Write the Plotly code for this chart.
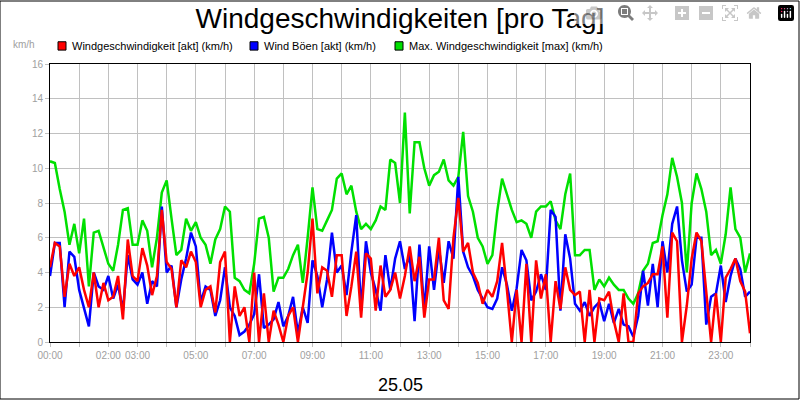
import plotly.graph_objects as go

# 10-minute samples, 00:00 .. 24:00 (km/h)
wind = [4.3, 5.7, 5.5, 2.6, 4.5, 3.8, 4.3, 3.0, 2.0, 4.0, 2.0, 3.4, 2.4, 2.6, 3.8, 1.3, 5.9, 3.8, 3.5, 5.4,
        4.4, 2.7, 3.8, 7.6, 4.6, 4.2, 2.0, 4.7, 4.3, 5.2, 4.6, 2.0, 3.0, 3.2, 1.7, 4.6, 5.2, 0, 3.2, 1.5,
        2.0, 0, 4.0, 0, 2.8, 0, 1.8, 1.0, 0, 1.5, 2.0, 0, 2.0, 4.0, 7.1, 2.8, 4.3, 4.1, 2.6, 5.0,
        5.0, 1.5, 3.2, 5.2, 1.4, 5.1, 4.8, 1.8, 4.4, 2.6, 3.0, 4.0, 2.5, 3.8, 5.5, 3.5, 4.9, 1.4, 3.6, 3.6,
        6.0, 2.4, 1.9, 6.0, 8.3, 5.2, 5.7, 4.0, 3.4, 2.2, 3.0, 2.6, 3.5, 5.7, 3.0, 0, 3.0, 0, 4.5, 0,
        4.7, 2.5, 3.9, 0, 3.5, 1.9, 4.3, 3.0, 2.7, 2.9, 0, 3.0, 0, 2.5, 2.4, 2.9, 1.2, 0, 2.8, 0,
        0, 2.8, 3.2, 3.4, 3.9, 3.9, 5.5, 1.4, 6.3, 5.8, 0, 2.1, 4.8, 6.3, 5.8, 3.0, 0, 2.8, 0, 3.7,
        4.2, 4.8, 3.5, 2.9, 0.5]
gust = [3.8, 5.7, 5.7, 2.0, 5.2, 4.9, 3.0, 2.0, 0.9, 4.0, 3.2, 3.0, 3.8, 2.5, 3.3, 1.8, 5.0, 3.6, 3.3, 4.0,
        2.2, 3.5, 3.2, 7.8, 4.0, 4.4, 2.0, 3.6, 4.8, 6.3, 5.5, 2.3, 3.2, 3.0, 1.5, 2.4, 4.3, 2.0, 1.5, 0.4,
        0.6, 1.0, 1.6, 3.9, 0.8, 1.0, 1.3, 2.3, 0.9, 1.5, 2.6, 0.5, 2.0, 1.1, 4.7, 3.8, 2.0, 3.6, 6.3, 4.0,
        4.4, 2.7, 5.2, 7.3, 1.8, 5.8, 4.0, 3.0, 1.8, 5.0, 3.0, 4.8, 5.8, 4.2, 5.0, 1.2, 5.6, 1.8, 5.5, 3.0,
        5.4, 3.4, 5.8, 4.8, 9.5, 5.2, 4.3, 3.8, 3.0, 2.5, 2.0, 1.9, 2.5, 4.3, 3.3, 1.8, 3.1, 5.3, 4.7, 2.4,
        2.9, 3.9, 3.0, 7.6, 7.2, 1.8, 6.2, 4.8, 2.2, 1.8, 2.3, 1.5, 2.0, 2.3, 1.2, 2.2, 1.1, 1.9, 1.0, 0.9,
        0.3, 1.5, 4.1, 2.1, 4.5, 2.0, 5.8, 4.0, 6.8, 7.8, 4.7, 2.9, 3.3, 6.0, 6.0, 1.0, 2.6, 2.8, 4.4, 2.3,
        3.8, 4.8, 4.2, 2.6, 2.9]
wind_max = [10.4, 10.3, 8.8, 7.5, 5.6, 6.8, 5.1, 7.1, 3.2, 6.3, 6.4, 5.5, 4.5, 4.1, 5.6, 7.6, 7.7, 5.6, 5.6, 7.0,
            6.4, 4.3, 6.0, 8.6, 9.3, 7.1, 5.0, 5.3, 7.1, 6.4, 6.9, 6.0, 5.6, 4.5, 5.9, 6.5, 7.8, 7.5, 3.7, 3.5,
            3.0, 2.8, 4.5, 7.1, 7.2, 6.0, 2.9, 3.7, 3.7, 4.2, 5.0, 5.6, 3.4, 6.0, 8.9, 6.5, 6.4, 7.0, 7.6, 9.4,
            9.7, 8.5, 9.0, 7.5, 6.5, 6.8, 6.5, 7.0, 7.8, 7.6, 10.5, 10.3, 8.0, 13.2, 7.4, 11.5, 11.5, 10.0, 9.0, 9.6,
            9.8, 10.5, 9.3, 9.0, 9.5, 12.1, 8.4, 7.5, 6.0, 5.5, 4.5, 5.0, 7.5, 9.4, 8.5, 7.6, 6.9, 7.0, 6.8, 6.0,
            7.5, 7.8, 7.8, 8.1, 7.0, 6.5, 8.5, 9.7, 5.0, 5.0, 5.3, 5.3, 3.0, 3.6, 3.2, 3.7, 3.3, 3.0, 3.0, 2.5,
            2.2, 2.8, 4.1, 4.5, 5.7, 5.8, 7.3, 8.5, 10.6, 9.5, 8.0, 4.0, 8.0, 9.7, 8.8, 7.5, 5.0, 5.3, 4.5, 6.2,
            8.9, 6.5, 6.0, 4.0, 5.1]
hours = [i / 6 for i in range(len(wind))]

tick_hours = list(range(25))
tick_labels = {0: "00:00", 2: "02:00", 3: "03:00", 5: "05:00", 7: "07:00", 9: "09:00", 11: "11:00",
               13: "13:00", 15: "15:00", 17: "17:00", 19: "19:00", 21: "21:00", 23: "23:00"}

series_names = ["Windgeschwindigkeit [akt] (km/h)", "Wind Böen [akt] (km/h)",
                "Max. Windgeschwindigkeit [max] (km/h)"]
series_colors = ["#ff0000", "#0000ff", "#00e000"]

fig = go.Figure()
fig.add_trace(go.Scatter(x=hours, y=wind_max, name=series_names[2],
                         mode="lines", line=dict(color=series_colors[2], width=2.5)))
fig.add_trace(go.Scatter(x=hours, y=gust, name=series_names[1],
                         mode="lines", line=dict(color=series_colors[1], width=2.5)))
fig.add_trace(go.Scatter(x=hours, y=wind, name=series_names[0],
                         mode="lines", line=dict(color=series_colors[0], width=2.5)))

# legend drawn as text items with coloured squares (like the original)
legend_x = [58, 250, 395]
annotations = []
for name, color, px in zip(series_names, series_colors, legend_x):
    annotations.append(dict(text=name, xref="paper", yref="paper", x=(px + 12 - 50) / 700, y=1.066,
                            xanchor="left", yanchor="middle", showarrow=False,
                            font=dict(size=11, color="black")))
shapes = [dict(type="rect", xref="paper", yref="paper", x0=(px - 50) / 700, x1=(px + 8 - 50) / 700,
               y0=1.05, y1=1.08, fillcolor=c, line=dict(color="black", width=1))
          for px, c in zip(legend_x, series_colors)]

annotations += [
    dict(text="km/h", xref="paper", yref="paper", x=-0.018, y=1.07, xanchor="right",
         yanchor="middle", showarrow=False, font=dict(size=10, color="#a0a0a0")),
    dict(text="25.05", xref="paper", yref="paper", x=0.5, y=-0.11, xanchor="center",
         yanchor="top", showarrow=False, font=dict(size=18, color="black")),
]
shapes.append(dict(type="rect", xref="paper", yref="paper", x0=-50 / 700, x1=749 / 700,
                   y0=-57 / 278, y1=63 / 278 + 1, line=dict(color="black", width=1)))

fig.update_layout(
    width=800, height=400,
    paper_bgcolor="white", plot_bgcolor="white",
    margin=dict(l=50, r=50, t=64, b=58),
    font=dict(family="Liberation Sans, Arial, sans-serif"),
    title=dict(text="Windgeschwindigkeiten [pro Tag]", x=0.5, xanchor="center", y=0.955,
               yanchor="middle", font=dict(size=28, color="black")),
    showlegend=False,
    xaxis=dict(range=[0, 24], tickmode="array", tickvals=tick_hours,
               ticktext=[tick_labels.get(h, "") for h in tick_hours],
               showgrid=True, gridcolor="#c0c0c0", showline=True, linecolor="black", linewidth=1,
               mirror=True, ticks="outside", ticklen=4, tickcolor="#c0c0c0",
               tickfont=dict(size=10, color="#a0a0a0"), zeroline=False),
    yaxis=dict(range=[0, 16], dtick=2, showgrid=True, gridcolor="#c0c0c0", showline=True,
               linecolor="black", linewidth=1, mirror=True, ticks="outside", ticklen=4,
               tickcolor="#c0c0c0", tickfont=dict(size=10, color="#a0a0a0"), zeroline=False),
    annotations=annotations,
    shapes=shapes,
)

fig.write_html("out.html", post_script="document.body.style.margin='0';")
